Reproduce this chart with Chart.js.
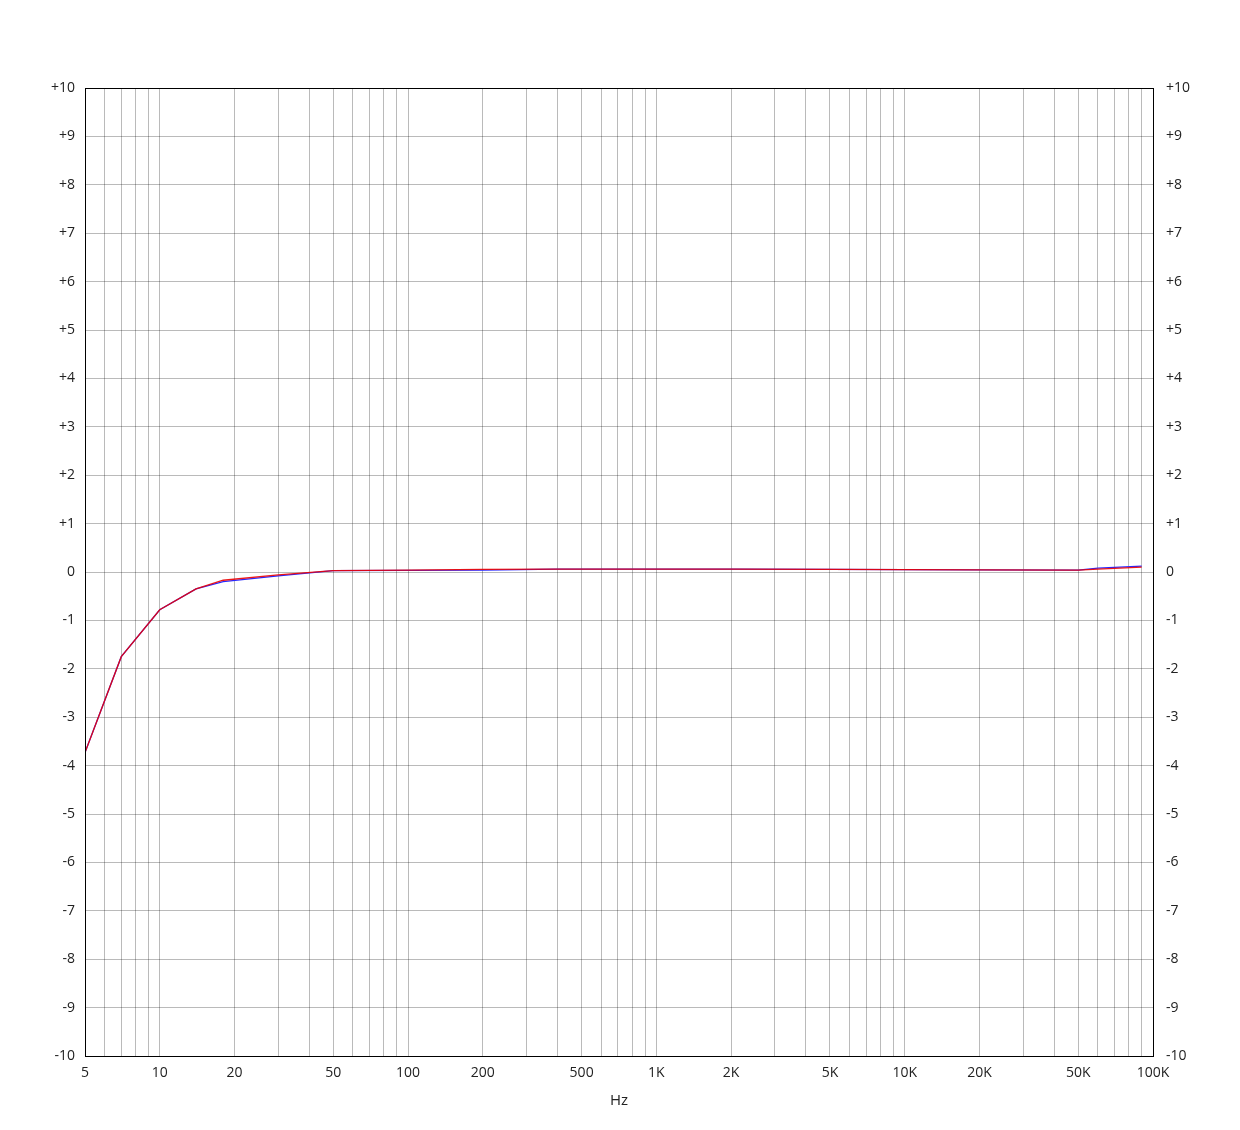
<!DOCTYPE html>
<html>
<head>
<meta charset="utf-8">
<script src="https://cdn.jsdelivr.net/npm/chart.js@4/dist/chart.umd.min.js"></script>
<style>
  body { margin: 0; background: #fff; }
  #wrap { width: 1240px; height: 1130px; }
</style>
</head>
<body>
<div id="wrap"><canvas id="myChart" width="1240" height="1130"></canvas></div>
<script>
// frequency points (Hz) and level in dB for both channels
const freqs = [5, 7, 10, 14, 18, 30, 50, 100, 200, 400, 1000, 2000, 5000, 10000, 20000, 50000, 60000, 90000];
const blueDb = [-3.73, -1.75, -0.78, -0.35, -0.2, -0.08, 0.03, 0.035, 0.04, 0.06, 0.06, 0.06, 0.055, 0.05, 0.045, 0.04, 0.08, 0.12];
const redDb  = [-3.73, -1.75, -0.78, -0.35, -0.17, -0.06, 0.03, 0.04, 0.055, 0.06, 0.06, 0.06, 0.055, 0.05, 0.045, 0.04, 0.06, 0.10];

// x tick labels, every other grid line stays unlabeled
const xLabels = {5: "5", 10: "10", 20: "20", 50: "50", 100: "100", 200: "200", 500: "500",
    1000: "1K", 2000: "2K", 5000: "5K", 10000: "10K", 20000: "20K", 50000: "50K", 100000: "100K"};

let gridFreqs = [5, 6, 7, 8, 9];
for (let dec = 10; dec < 100000; dec *= 10) {
    for (let m = 1; m < 10; m++) gridFreqs.push(m * dec);
}
gridFreqs.push(100000);

const tickFont = {family: "'Open Sans', sans-serif", size: 14};
const gridColor = "rgba(0,0,0,0.27)";

function dbLabel(v) {
    if (v > 0) return "+" + v;
    return "" + v;
}

// black frame round the plot area
const frame = {
    id: "frame",
    afterDraw(chart) {
        const a = chart.chartArea, ctx = chart.ctx;
        ctx.save();
        ctx.strokeStyle = "#000";
        ctx.lineWidth = 1;
        ctx.strokeRect(Math.round(a.left) + 0.5, Math.round(a.top) + 0.5,
            Math.round(a.right - a.left), Math.round(a.bottom - a.top));
        ctx.restore();
    }
};

new Chart("myChart", {
    type: "line",
    data: {
        datasets: [{
            label: "L",
            data: freqs.map((f, i) => ({x: f, y: blueDb[i]})),
            borderColor: "rgb(40,40,255)",
            borderWidth: 1.3,
            pointRadius: 0,
            order: 1,
            yAxisID: "y"
        }, {
            label: "R",
            data: freqs.map((f, i) => ({x: f, y: redDb[i]})),
            borderColor: "rgba(235,0,0,0.9)",
            borderWidth: 1.3,
            pointRadius: 0,
            order: 0,
            yAxisID: "y"
        }]
    },
    options: {
        responsive: false,
        animation: false,
        devicePixelRatio: 1,
        layout: {padding: {top: 88, left: 0, right: 0, bottom: 0}},
        plugins: {legend: {display: false}, tooltip: {enabled: false}},
        scales: {
            x: {
                type: "logarithmic",
                min: 5,
                max: 100000,
                afterBuildTicks: s => { s.ticks = gridFreqs.map(v => ({value: v})); },
                afterFit: s => { s.height = 74; },
                ticks: {
                    autoSkip: false,
                    maxRotation: 0,
                    padding: 9,
                    color: "#222",
                    font: tickFont,
                    callback: v => xLabels[v] || ""
                },
                grid: {color: gridColor, drawTicks: false},
                border: {color: "#000"},
                title: {display: true, text: "Hz", color: "#222", font: {family: "'Open Sans', sans-serif", size: 15}, padding: {top: 0, bottom: 20}}
            },
            y: {
                position: "left",
                min: -10,
                max: 10,
                afterFit: s => { s.width = 85; },
                ticks: {stepSize: 1, padding: 10, color: "#222", font: tickFont, callback: dbLabel},
                grid: {color: gridColor, drawTicks: false},
                border: {color: "#000"}
            },
            y2: {
                position: "right",
                min: -10,
                max: 10,
                afterFit: s => { s.width = 87; },
                ticks: {stepSize: 1, padding: 13, color: "#222", font: tickFont, callback: dbLabel},
                grid: {drawOnChartArea: false, drawTicks: false},
                border: {color: "#000"}
            }
        }
    },
    plugins: [frame]
});
</script>
</body>
</html>
